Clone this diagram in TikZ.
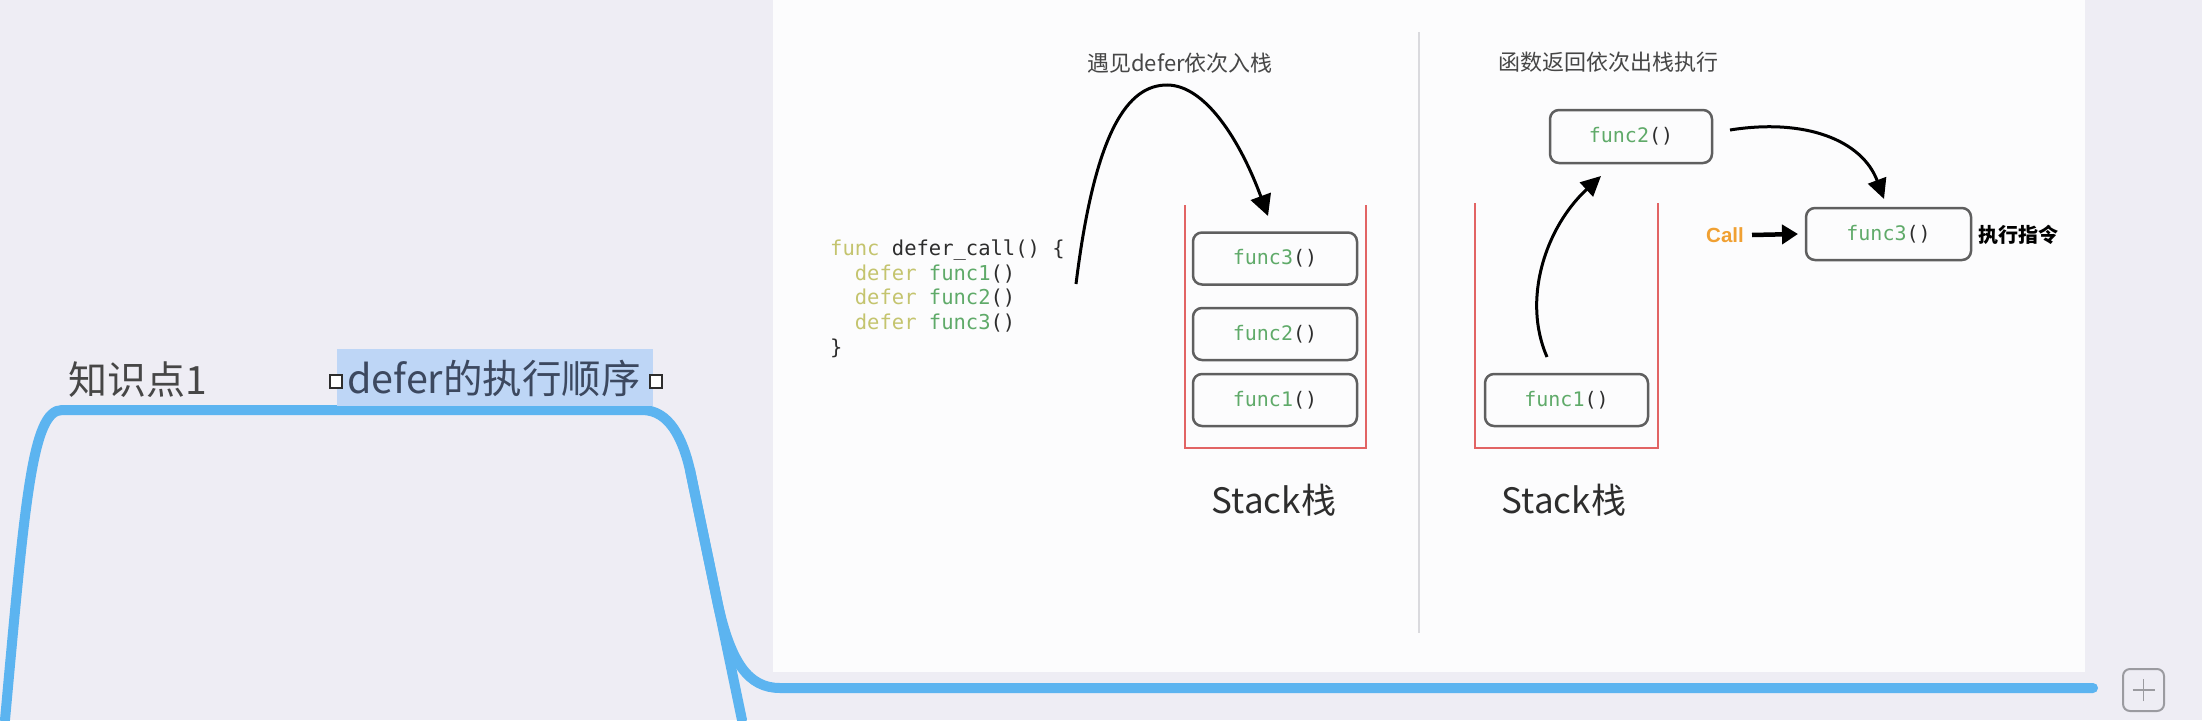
\documentclass[tikz,border=0pt]{standalone}
\usepackage{fontspec}
\usetikzlibrary{arrows.meta}
\setmainfont{Noto Sans CJK SC}
\newfontfamily\cjkfont{Noto Sans CJK SC}
\newfontfamily\codefont{DejaVu Sans Mono}
\newfontfamily\labfont{Liberation Sans}
\definecolor{bgc}{RGB}{238,237,244}
\definecolor{panelc}{RGB}{252,252,253}
\definecolor{bluel}{RGB}{92,180,240}
\definecolor{hilite}{RGB}{190,214,246}
\definecolor{stackred}{RGB}{226,100,100}
\definecolor{boxgray}{RGB}{95,95,95}
\definecolor{fgreen}{RGB}{95,170,105}
\definecolor{kw}{RGB}{196,196,110}
\definecolor{darktxt}{RGB}{45,45,45}
\definecolor{graytxt}{RGB}{70,70,70}
\definecolor{callor}{RGB}{240,160,50}
\definecolor{divc}{RGB}{218,218,222}
\definecolor{plusc}{RGB}{155,155,160}
\definecolor{topictxt}{RGB}{60,72,95}
\tikzset{
  branch/.style={draw=bluel, line width=10pt, line cap=round, line join=round},
  funcbox/.style={draw=boxgray, line width=2.5pt, rounded corners=9pt, minimum width=164pt, minimum height=52pt, inner sep=0pt, font=\codefont\fontsize{20}{24}\selectfont},
  codetxt/.style={anchor=base west, inner sep=0pt, font=\codefont\fontsize{20.5}{24}\selectfont},
  stackwall/.style={draw=stackred, line width=2.5pt},
  curvearrow/.style={draw=black, line width=3pt, -{Triangle[length=21pt,width=21pt]}},
  stacklab/.style={font=\cjkfont\fontsize{35}{40}\selectfont, text=darktxt, inner sep=0pt},
  title/.style={font=\cjkfont\fontsize{22}{26}\selectfont, text=graytxt, inner sep=0pt},
  handle/.style={draw=darktxt, fill=white, line width=2pt, minimum width=12pt, minimum height=13pt, inner sep=0pt},
}
\newcommand{\fn}[1]{\textcolor{fgreen}{#1}\textcolor{darktxt}{()}}
\begin{document}
\begin{tikzpicture}[x=1pt,y=-1pt]
\useasboundingbox (0,0) rectangle (2202,720);
\fill[bgc] (0,0) rectangle (2202,720);
% image panel
\fill[panelc] (773,0) rectangle (2085,672);

% mind map branches
\coordinate (lb) at (5,720);
\coordinate (lt) at (62,410);
\coordinate (rt) at (642,410);
\coordinate (rm) at (690,470);
\coordinate (sp) at (718,605);
\coordinate (rb) at (742,720);
\coordinate (hb) at (780,688);
\coordinate (he) at (2093,688);
\draw[branch] (lb) .. controls (25,500) and (32,410) .. (lt) -- (rt)
  .. controls (670,410) and (683,440) .. (rm) -- (rb);
\draw[branch] (rm) -- (sp) .. controls (731,662) and (748,688) .. (hb) -- (he);

% plus button
\node[draw=plusc, line width=2pt, rounded corners=7pt, minimum width=41pt, minimum height=42pt, inner sep=0pt] (plus) at (2143.5,690) {};
\draw[plusc, line width=1.6pt] ([xshift=-11pt]plus.center) -- ([xshift=11pt]plus.center);
\draw[plusc, line width=1.6pt] ([yshift=-11pt]plus.center) -- ([yshift=11pt]plus.center);

% topic labels
\node[font=\cjkfont\fontsize{39}{44}\selectfont, text=graytxt, inner sep=0pt] (k1) at (138,380) {知识点1};
\fill[hilite] (337,349) rectangle (653,406);
\node[font=\cjkfont\fontsize{39.5}{44}\selectfont, text=topictxt, inner sep=0pt] (topic) at (494,378) {defer的执行顺序};
\node[handle] (h1) at (336,381) {};
\node[handle] (h2) at (656,381) {};

% divider
\draw[divc, line width=1.5pt] (1419,32) -- (1419,633);

% titles
\node[title] (t1) at (1180,63) {遇见defer依次入栈};
\node[title] (t2) at (1608,62) {函数返回依次出栈执行};

% code
\node[codetxt] (c1) at (830,255) {\textcolor{kw}{func} \textcolor{darktxt}{defer\_call() \{}};
\node[codetxt] (c2) at (830,280) {\hphantom{xx}\textcolor{kw}{defer} \fn{func1}};
\node[codetxt] (c3) at (830,304) {\hphantom{xx}\textcolor{kw}{defer} \fn{func2}};
\node[codetxt] (c4) at (830,329) {\hphantom{xx}\textcolor{kw}{defer} \fn{func3}};
\node[codetxt] (c5) at (830,354) {\textcolor{darktxt}{\}}};

% stack 1
\draw[stackwall] (1185,205) -- (1185,448) -- (1366,448) -- (1366,205);
\node[funcbox] (s3) at (1275,258.5) {\fn{func3}};
\node[funcbox] (s2) at (1275,334) {\fn{func2}};
\node[funcbox] (s1) at (1275,400) {\fn{func1}};
\node[stacklab] (sl1) at (1274,500) {Stack栈};

% stack 2
\draw[stackwall] (1475,203) -- (1475,448) -- (1658,448) -- (1658,203);
\node[funcbox, minimum width=163pt] (u1) at (1566.5,400) {\fn{func1}};
\node[stacklab] (sl2) at (1564,500) {Stack栈};
\node[funcbox, minimum width=162pt, minimum height=53pt] (f2) at (1631,136.5) {\fn{func2}};
\node[funcbox, minimum width=165pt] (f3) at (1888.5,234) {\fn{func3}};

\node[font=\labfont\bfseries\fontsize{20.5}{24}\selectfont, text=callor, inner sep=0pt] (call) at (1725,235) {Call};
\node[font=\cjkfont\bfseries\fontsize{20}{24}\selectfont, text=black, inner sep=0pt, anchor=west] (exe) at (1978,235) {执行指令};

% arrows
\coordinate (a1s) at (1076,284);
\coordinate (a1e) at (1268,216);
\draw[curvearrow] (a1s) .. controls (1095,130) and (1128,85) .. (1167,85)
  .. controls (1205,85) and (1240,140) .. (a1e);
\coordinate (a2s) at (1547,357);
\coordinate (a2e) at (1601,176);
\draw[curvearrow, -{Triangle[length=20pt,width=19pt]}] (a2s) .. controls (1522,300) and (1545,228) .. (a2e);
\coordinate (a3s) at (1730,130);
\coordinate (a3e) at (1884,199);
\draw[curvearrow, -{Triangle[length=20pt,width=19pt]}] (a3s) .. controls (1805,118) and (1862,140) .. (a3e);
\draw[black, line width=4.5pt, -{Triangle[length=16pt,width=19pt]}] (call.east) ++(8,0) coordinate (cs) -- (f3.west -| 1798,0);
\end{tikzpicture}
\end{document}
